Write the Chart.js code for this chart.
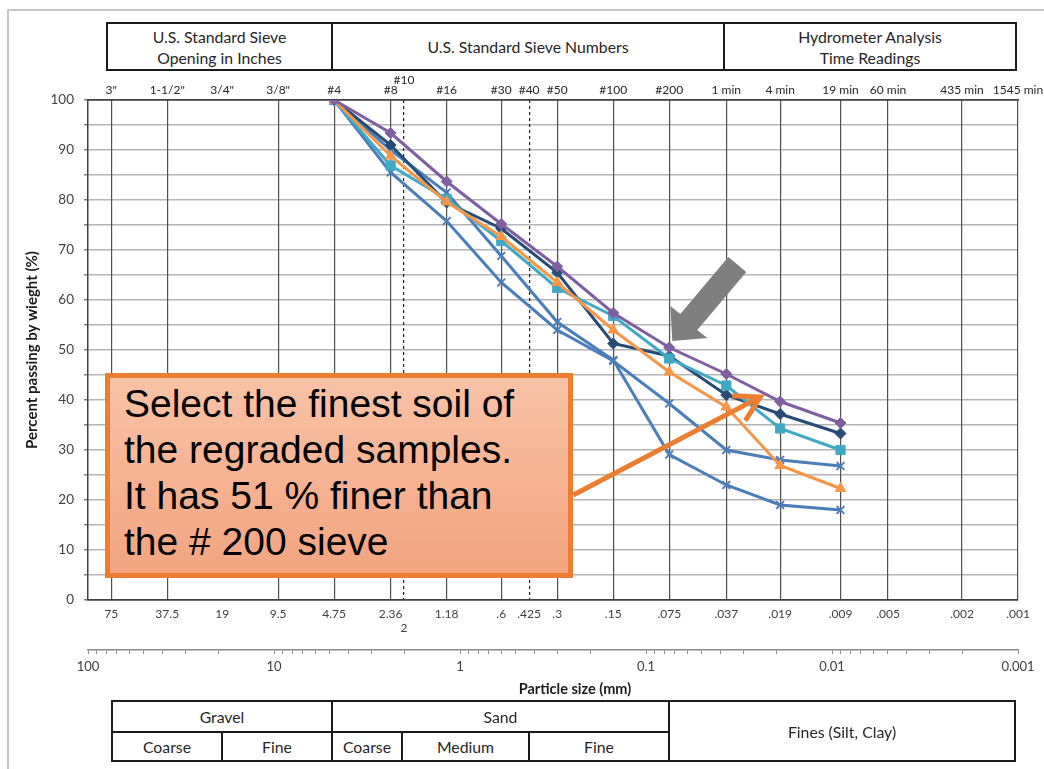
<!DOCTYPE html>
<html>
<head>
<meta charset="utf-8">
<script src="https://cdn.jsdelivr.net/npm/chart.js@4.4.1/dist/chart.umd.min.js"></script>
<style>
html,body{margin:0;padding:0;background:#fff;overflow:hidden;}
#wrap{position:relative;width:1044px;height:769px;overflow:hidden;font-family:Lato,"Open Sans",sans-serif;}
#frame{position:absolute;left:7px;top:9px;width:1100px;height:800px;border:2px solid #c4c4c4;box-sizing:border-box;}
#chart{position:absolute;left:0;top:0;}
.cell{position:absolute;box-sizing:border-box;border:2px solid #1c1c1c;display:flex;align-items:center;justify-content:center;text-align:center;font-size:15.8px;color:#262626;line-height:21px;background:#fff;}
#xtitle{position:absolute;left:475px;top:680px;width:200px;text-align:center;font-weight:bold;font-size:14.5px;line-height:18px;color:#1a1a1a;}
#callout{position:absolute;left:105px;top:373px;width:468px;height:205px;box-sizing:border-box;border:5px solid #ED7D31;
  background:linear-gradient(to bottom,#F8C2A6,#F3A480);padding:3px 0 0 14px;font-family:"Liberation Sans",Arial,sans-serif;font-size:39px;line-height:46px;color:#000;white-space:nowrap;}
</style>
</head>
<body>
<div id="wrap">
  <div id="frame"></div>
  <canvas id="chart" width="1044" height="769"></canvas>

  <div class="cell" style="left:106px;top:22px;width:227px;height:49px;">U.S. Standard Sieve<br>Opening in Inches</div>
  <div class="cell" style="left:331px;top:22px;width:394px;height:49px;">U.S. Standard Sieve Numbers</div>
  <div class="cell" style="left:723px;top:22px;width:294px;height:49px;">Hydrometer Analysis<br>Time Readings</div>

  <div id="xtitle">Particle size (mm)</div>

  <div class="cell" style="left:111px;top:700px;width:222px;height:33px;">Gravel</div>
  <div class="cell" style="left:331px;top:700px;width:339px;height:33px;">Sand</div>
  <div class="cell" style="left:668px;top:700px;width:348px;height:62px;">Fines (Silt, Clay)</div>
  <div class="cell" style="left:111px;top:731px;width:112px;height:31px;">Coarse</div>
  <div class="cell" style="left:221px;top:731px;width:112px;height:31px;">Fine</div>
  <div class="cell" style="left:331px;top:731px;width:72px;height:31px;">Coarse</div>
  <div class="cell" style="left:401px;top:731px;width:129px;height:31px;">Medium</div>
  <div class="cell" style="left:528px;top:731px;width:142px;height:31px;">Fine</div>

  <div id="callout">Select the finest soil of<br>the regraded samples.<br>It has 51 % finer than<br>the # 200 sieve</div>
</div>

<script>
// ---------- data ----------
const particleSizes = [4.75, 2.36, 1.18, 0.6, 0.3, 0.15, 0.075, 0.037, 0.019, 0.009];

const purpleSeries = [100, 93.4, 83.7, 75.2, 66.7, 57.4, 50.5, 45.2, 39.7, 35.4];
const orangeSeries = [100, 88.8, 79.6, 72.7, 63.5, 54.0, 45.6, 38.6, 26.9, 22.3];
const tealSeries   = [100, 86.9, 80.2, 71.8, 62.4, 56.8, 48.3, 42.9, 34.3, 30.0];
const navySeries   = [100, 91.0, 79.5, 74.3, 65.5, 51.3, 48.8, 41.0, 37.2, 33.3];
const blueSeriesA  = [100, 90.0, 81.5, 68.8, 55.6, 48.0, 29.1, 23.0, 19.0, 18.0];
const blueSeriesB  = [100, 85.5, 75.8, 63.5, 54.0, 47.8, 39.3, 30.0, 28.0, 26.8];

// sieve sizes shown as vertical grid lines and bottom labels
const sieveSizes = [75, 37.5, 19, 9.5, 4.75, 2.36, 2, 1.18, 0.6, 0.425, 0.3, 0.15, 0.075, 0.037, 0.019, 0.009, 0.005, 0.002, 0.001];
const sieveSizeLabels = ['75','37.5','19','9.5','4.75','2.36',['','2'],'1.18','.6','.425','.3','.15','.075','.037','.019','.009','.005','.002','.001'];
const sieveNames = ['3"','1-1/2"','3/4"','3/8"','#4','#8',['#10',''],'#16','#30','#40','#50','#100','#200','1 min','4 min','19 min','60 min','435 min','1545 min'];
const hiddenGridSizes = [19];
const dashedGridSizes = [2, 0.425];

// decade axis
const decadeValues = [100, 10, 1, 0.1, 0.01, 0.001];
const decadeLabels = ['100', '10', '1', '0.1', '0.01', '0.001'];
const minorDigits = [2, 3, 4, 5, 6, 7, 8, 9];

const yTickValues = [0, 10, 20, 30, 40, 50, 60, 70, 80, 90, 100];

// annotation anchors (data units)
const grayArrowTip = {x: 0.0722, y: 51.8};
const orangeArrowFrom = {x: 0.246, y: 21};
const orangeArrowTo = {x: 0.0243, y: 40.6};

// ---------- build ----------
const toPoints = vals => particleSizes.map((s, i) => ({x: s, y: vals[i]}));

const decadeTicks = [];
decadeValues.forEach((d, i) => {
  decadeTicks.push(d);
  if (i < decadeValues.length - 1) {
    minorDigits.slice().reverse().forEach(m => decadeTicks.push(Number((m * decadeValues[i + 1]).toPrecision(3))));
  }
});

function ds(label, vals, color, style, radius) {
  return {
    label, data: toPoints(vals), borderColor: color, backgroundColor: color,
    pointBackgroundColor: color, pointBorderColor: color,
    pointStyle: style, pointRadius: radius, pointBorderWidth: style === 'crossRot' ? 2 : 1,
    borderWidth: 3, tension: 0, fill: false, xAxisID: 'x', yAxisID: 'y'
  };
}

const fontFam = 'Lato, "Open Sans", sans-serif';

const annotations = {
  id: 'annotations',
  afterDraw(chart) {
    const c = chart.ctx, sx = chart.scales.x, sy = chart.scales.y;
    c.save();
    // gray block arrow
    const tx = sx.getPixelForValue(grayArrowTip.x), ty = sy.getPixelForValue(grayArrowTip.y);
    const rel = [[0,0],[35,-3],[25,-11],[74,-69],[56,-84],[8,-27],[-2,-35]];
    c.fillStyle = '#7F7F7F';
    c.beginPath();
    rel.forEach((p, i) => i ? c.lineTo(tx + p[0], ty + p[1]) : c.moveTo(tx + p[0], ty + p[1]));
    c.closePath();
    c.fill();
    // orange line arrow
    const ax = sx.getPixelForValue(orangeArrowFrom.x), ay = sy.getPixelForValue(orangeArrowFrom.y);
    const bx = sx.getPixelForValue(orangeArrowTo.x), by = sy.getPixelForValue(orangeArrowTo.y);
    c.strokeStyle = '#ED7D31'; c.lineWidth = 5; c.lineCap = 'butt'; c.lineJoin = 'miter';
    const ang = Math.atan2(by - ay, bx - ax);
    c.beginPath(); c.moveTo(ax, ay); c.lineTo(bx - 3 * Math.cos(ang), by - 3 * Math.sin(ang)); c.stroke();
    const L = 28, wing = Math.PI / 6;
    c.beginPath();
    c.moveTo(bx - L * Math.cos(ang - wing), by - L * Math.sin(ang - wing));
    c.lineTo(bx, by);
    c.lineTo(bx - L * Math.cos(ang + wing), by - L * Math.sin(ang + wing));
    c.stroke();
    c.restore();
  }
};

const fixH = h => scale => { scale.height = h; scale.paddingLeft = 0; scale.paddingRight = 0; };

new Chart(document.getElementById('chart'), {
  type: 'line',
  data: {
    datasets: [
      ds('Sample 1', purpleSeries, '#7F5FA1', 'rectRot', 5.5),
      ds('Sample 2', orangeSeries, '#F79646', 'triangle', 6),
      ds('Sample 3', tealSeries, '#40A9C6', 'rect', 6.5),
      ds('Sample 4', navySeries, '#264B77', 'rectRot', 5.5),
      ds('Sample 5', blueSeriesA, '#4A7EBB', 'crossRot', 5.5),
      ds('Sample 6', blueSeriesB, '#4A7EBB', 'crossRot', 5.5)
    ]
  },
  options: {
    responsive: false,
    devicePixelRatio: 1,
    animation: false,
    layout: {padding: {top: 74, left: 0, right: 26, bottom: 71}},
    plugins: {legend: {display: false}, tooltip: {enabled: false}},
    scales: {
      y: {
        type: 'linear', position: 'left', min: 0, max: 100,
        afterBuildTicks: s => { const t = []; for (let v = 0; v <= 100; v += 5) t.push({value: v}); s.ticks = t; },
        afterFit: s => { s.width = 88; s.paddingTop = 0; s.paddingBottom = 0; },
        ticks: {
          callback: v => yTickValues.includes(v) ? String(v) : '',
          font: {family: fontFam, size: 13.5}, color: '#404040', padding: 10
        },
        grid: {
          color: ctx => (ctx.tick && (ctx.tick.value === 0 || ctx.tick.value === 100)) ? '#404040' : '#B4B4B4',
          lineWidth: 1.5, drawTicks: true, tickLength: 4, tickColor: '#808080'
        },
        border: {display: true, color: '#404040', width: 1.5},
        title: {display: true, text: 'Percent passing by wieght (%)', font: {family: fontFam, size: 15, weight: 'bold'}, color: '#1a1a1a', padding: {top: 23, bottom: 0}}
      },
      x: {
        type: 'logarithmic', position: 'bottom', reverse: true, min: 0.001, max: 100, weight: 0,
        afterBuildTicks: s => { s.ticks = sieveSizes.map(v => ({value: v})); },
        afterFit: fixH(50),
        ticks: {
          autoSkip: false, maxRotation: 0, minRotation: 0,
          callback: (v, i) => sieveSizeLabels[i],
          font: {family: fontFam, size: 12}, color: '#404040', padding: 7
        },
        grid: {
          drawTicks: false, lineWidth: 1.2,
          color: ctx => {
            if (!ctx.tick) return '#505050';
            if (hiddenGridSizes.includes(ctx.tick.value)) return 'rgba(0,0,0,0)';
            if (dashedGridSizes.includes(ctx.tick.value)) return '#202020';
            return '#505050';
          }
        },
        border: {
          display: true, color: '#404040', width: 1.5,
          dash: ctx => (ctx.tick && dashedGridSizes.includes(ctx.tick.value)) ? [3, 3] : []
        }
      },
      x2: {
        type: 'logarithmic', position: 'bottom', reverse: true, min: 0.001, max: 100, weight: 1,
        afterBuildTicks: s => { s.ticks = decadeTicks.map(v => ({value: v})); },
        afterFit: fixH(48),
        ticks: {
          autoSkip: false, maxRotation: 0, minRotation: 0,
          callback: v => { const k = decadeValues.indexOf(v); return k >= 0 ? decadeLabels[k] : ''; },
          font: {family: fontFam, size: 13}, color: '#404040', padding: 5
        },
        grid: {drawOnChartArea: false, drawTicks: true, tickLength: 4, tickColor: '#8a8a8a', lineWidth: 1},
        border: {display: true, color: '#8a8a8a', width: 1.5}
      },
      xTop: {
        type: 'logarithmic', position: 'top', reverse: true, min: 0.001, max: 100,
        afterBuildTicks: s => { s.ticks = sieveSizes.map(v => ({value: v})); },
        afterFit: fixH(26),
        ticks: {
          autoSkip: false, maxRotation: 0, minRotation: 0,
          callback: (v, i) => sieveNames[i],
          font: {family: fontFam, size: 12, lineHeight: 0.9}, color: '#262626', padding: 4
        },
        grid: {drawOnChartArea: false, drawTicks: false},
        border: {display: true, color: '#404040', width: 1.5}
      }
    }
  },
  plugins: [annotations]
});
</script>
</body>
</html>
